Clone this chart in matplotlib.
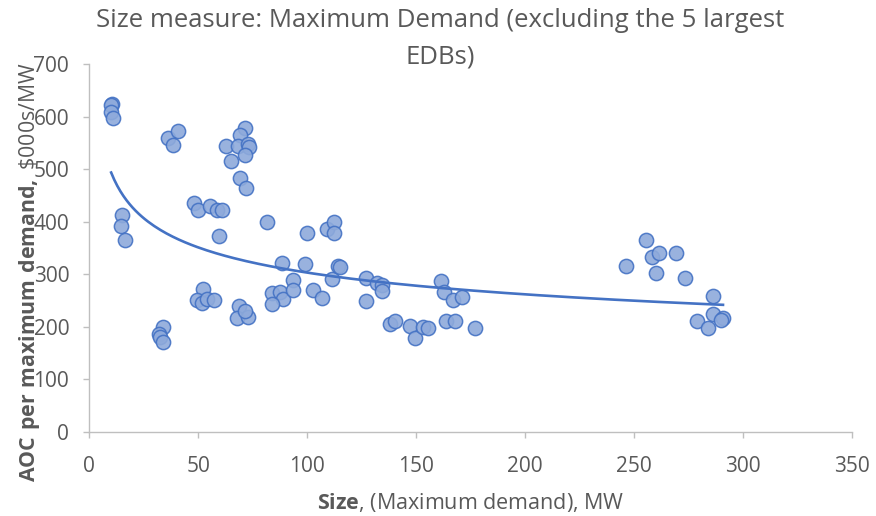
import numpy as np
import matplotlib
matplotlib.use("Agg")
import matplotlib.pyplot as plt

plt.rcParams['font.family'] = ['Open Sans', 'DejaVu Sans']
plt.rcParams['mathtext.fontset'] = 'custom'
plt.rcParams['mathtext.rm'] = 'Open Sans'
plt.rcParams['mathtext.bf'] = 'Open Sans:bold'

# EDB size (MW) vs AOC per MW of maximum demand
size_mw = [10.3, 10.0, 10.0, 10.7,
           14.9, 14.7, 16.5,
           33.9, 32.0, 32.4, 33.7,
           36.0, 40.8, 38.5,
           48.2, 50.0, 55.4, 58.4, 60.7, 59.5,
           52.0, 49.3, 51.6, 53.9, 57.2,
           71.4, 69.1, 62.7, 68.3, 72.9, 73.4, 64.9, 71.4, 69.1, 71.9,
           68.8, 67.9, 72.9, 71.4,
           81.4,
           83.7, 87.5, 89.0, 83.7, 88.3, 93.3, 93.3,
           99.0, 100.0, 102.8, 106.6, 108.9, 112.3, 112.3, 111.2, 114.2, 115.0,
           126.8, 131.8, 134.1, 134.1, 126.8,
           137.9, 140.2, 147.1, 149.4, 153.2, 155.5,
           161.6, 162.8, 167.0, 170.8, 163.9, 167.8, 176.9,
           255.4, 246.5, 258.0, 261.3, 259.9, 269.1, 273.3,
           286.2, 278.9, 284.0, 286.2, 290.8, 290.1]
aoc_per_mw = [625, 622, 610, 597,
              413, 392, 365,
              200, 187, 180, 170,
              560, 573, 546,
              436, 422, 430, 422, 422, 373,
              271, 251, 245, 252, 251,
              578, 565, 544, 544, 549, 543, 516, 527, 483, 464,
              239, 216, 218, 229,
              399,
              265, 267, 252, 243, 322, 289, 270,
              319, 379, 270, 254, 386, 400, 379, 290, 316, 314,
              292, 283, 279, 269, 249,
              205, 211, 201, 178, 200, 197,
              288, 267, 251, 256, 211, 211, 198,
              365, 316, 332, 340, 302, 340, 292,
              258, 211, 198, 224, 217, 213]

x_ticks = [0, 50, 100, 150, 200, 250, 300, 350]
y_ticks = [0, 100, 200, 300, 400, 500, 600, 700]

x = np.array(size_mw)
y = np.array(aoc_per_mw)

# power trendline, fitted in log space
k, c = np.polyfit(np.log(x), np.log(y), 1)
xf = np.linspace(x.min(), x.max(), 200)
yf = np.exp(c) * xf ** k

fig = plt.figure(figsize=(8.76, 5.16), dpi=100)
ax = fig.add_axes([0.102, 0.1634, 0.8706, 0.712])

ax.scatter(x, y, s=105, facecolor='#8eaadb', edgecolor='#4472c4',
           linewidth=1.1, alpha=0.9, zorder=3)
ax.plot(xf, yf, color='#4472c4', linewidth=1.9, zorder=4)

ax.set_xlim(0, 350)
ax.set_ylim(0, 700)
ax.set_xticks(x_ticks)
ax.set_yticks(y_ticks)

for side in ['top', 'right']:
    ax.spines[side].set_visible(False)
for side in ['left', 'bottom']:
    ax.spines[side].set_color('#bfbfbf')
    ax.spines[side].set_linewidth(1.0)

ax.tick_params(axis='both', colors='#bfbfbf', labelcolor='#595959',
               labelsize=15, length=4.5, width=1.0)
ax.tick_params(axis='y', pad=10)
ax.tick_params(axis='x', pad=13)

fig.text(0.502, 0.984, "Size measure: Maximum Demand (excluding the 5 largest\nEDBs)",
         ha='center', va='top', fontsize=18.5, color='#595959', linespacing=1.6)

fig.text(0.537, 0.026, r"$\bf{Size}$, (Maximum demand), MW",
         ha='center', va='center', fontsize=15.5, color='#595959')
fig.text(0.034, 0.473, r"$\bf{AOC\ per\ maximum\ demand,}$ \$000s/MW",
         ha='center', va='center', rotation=90, fontsize=15.3, color='#595959')

fig.savefig("out.png", dpi=100)
